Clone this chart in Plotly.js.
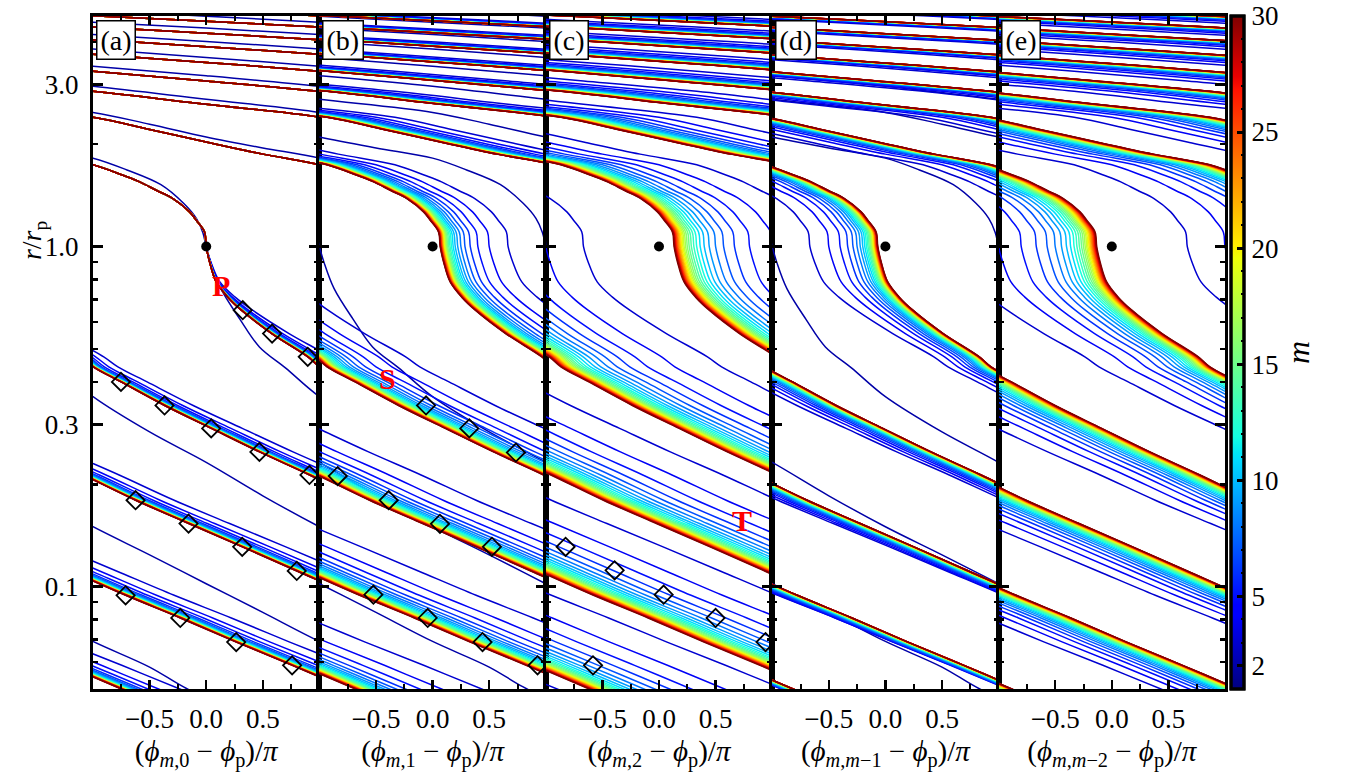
<!DOCTYPE html>
<html><head><meta charset="utf-8">
<script src="https://cdn.plot.ly/plotly-3.0.1.min.js"></script>
<style>body{margin:0;background:#fff}#plot{width:1359px;height:772px}</style>
</head><body><div id="plot"></div>
<script>
// ---- data ----
// unwrapped phase (units of pi) and radius (r/rp) of the m=30 arm
const phi30 = [-16,-15,-14,-13,-12,-11,-10,-9,-8,-7,-6,-5,-4,-3,-2.5,-2,-1.5,-1,
  -0.736,-0.588,-0.441,-0.294,-0.147,-0.088,-0.015,0,
  0.03,0.088,0.19,0.31,0.578,0.897,1.0,
  1.247,1.632,2.044,2.47,2.912,3.376,3.844,4.318,4.80,5.288,5.771,6.265,6.759,7.25,7.75];
const r30 = [4.94,4.77,4.60,4.42,4.24,4.06,3.87,3.68,3.48,3.28,3.07,2.86,2.62,2.40,2.21,2.03,1.87,1.74,
  1.62,1.55,1.464,1.384,1.265,1.195,1.104,1.0,
  0.901,0.787,0.71,0.65,0.555,0.474,0.443,
  0.400,0.341,0.292,0.249,0.213,0.1795,0.1533,0.1309,0.1112,0.0943,0.0809,0.0687,0.0587,0.050,0.0427];
// how the extra winding of low-m arms grows inside the planet (aligned with phi30)
const lagShape = [0,0,0,0,0,0,0,0,0,0,0,0,0,0,0,0,0,0,0,0,0,0,0,0,0,0,
  0.05,0.15,0.3,0.45,0.7,0.9,1.0,
  1.05,1.15,1.25,1.35,1.45,1.55,1.65,1.75,1.85,1.95,2.05,2.15,2.25,2.35,2.45];
// m = 2 arm (unwrapped phase, radius)
const phi2 = [-16,-15,-14,-13,-12,-11,-10,-9,-8,-7,-6,-5,-4,-3,-2.5,-2,-1.5,-1,-0.7,-0.4,-0.2,-0.087,-0.03,0,
  0.04,0.13,0.3,0.47,0.7,1.0,1.5,2.0,2.5,3.0,3.5,4.0,4.5,5.0,5.5,5.8,6.3];
const r2 = [5.11,4.94,4.76,4.57,4.39,4.20,4.01,3.81,3.60,3.39,3.18,2.96,2.71,2.48,2.29,2.10,1.95,1.82,1.68,1.52,1.34,1.21,1.10,1.0,
  0.90,0.752,0.61,0.507,0.44,0.362,0.285,0.232,0.185,0.150,0.124,0.102,0.084,0.069,0.058,0.0507,0.042];
// azimuthal modes
const mValues = [2,3,4,5,6,7,8,9,10,11,12,13,14,15,16,17,18,19,20,21,22,23,24,25,26,27,28,29,30];
// extra winding (units of pi) of each mode relative to m=30, inner disc
const lagM = [0,0.22,0.14,0.10,0.075,0.06,0.05,0.042,0.036,0.031,0.027,0.024,0.021,0.019,0.017,0.015,0.013,0.012,0.011,0.010,0.009,0.008,0.007,0.006,0.005,0.004,0.003,0.002,0];
// phase offset of the plotted arm in each panel (units of pi), null = not drawn
const shiftA = [0,0,0,0,0,0,0,0,0,0,0,0,0,0,0,0,0,0,0,0,0,0,0,0,0,0,0,0,0];
const shiftB = [1.0,0.667,0.5,0.4,0.333,0.286,0.25,0.222,0.2,0.182,0.167,0.154,0.143,0.133,0.125,0.118,0.111,0.105,0.1,0.095,0.091,0.087,0.083,0.08,0.077,0.074,0.071,0.069,0.067];
const shiftC = [null,1.333,1.0,0.8,0.667,0.571,0.5,0.444,0.4,0.364,0.333,0.308,0.286,0.267,0.25,0.235,0.222,0.211,0.2,0.19,0.182,0.174,0.167,0.16,0.154,0.148,0.143,0.138,0.133];
const shiftD = [-1.0,-0.667,-0.5,-0.4,-0.333,-0.286,-0.25,-0.222,-0.2,-0.182,-0.167,-0.154,-0.143,-0.133,-0.125,-0.118,-0.111,-0.105,-0.1,-0.095,-0.091,-0.087,-0.083,-0.08,-0.077,-0.074,-0.071,-0.069,-0.067];
const shiftE = [null,-1.333,-1.0,-0.8,-0.667,-0.571,-0.5,-0.444,-0.4,-0.364,-0.333,-0.308,-0.286,-0.267,-0.25,-0.235,-0.222,-0.211,-0.2,-0.19,-0.182,-0.174,-0.167,-0.16,-0.154,-0.148,-0.143,-0.138,-0.133];
// diamond markers
const diaAx = [0.323,0.582,0.897,-0.753,-0.368,0.044,0.47,0.912,-0.624,-0.156,0.318,0.80,-0.712,-0.229,0.265,0.759];
const diaAr = [0.65,0.555,0.474,0.400,0.341,0.292,0.249,0.213,0.1795,0.1533,0.1309,0.1112,0.0943,0.0809,0.0687,0.0587];
const diaBx = [-0.058,0.324,0.736,-0.838,-0.388,0.065,0.524,-0.523,-0.043,0.441,0.927];
const diaBr = [0.341,0.292,0.248,0.2115,0.1795,0.153,0.131,0.0947,0.0809,0.0687,0.0587];
const diaCx = [-0.825,-0.392,0.041,0.50,0.941,-0.583];
const diaCr = [0.131,0.1117,0.0947,0.0809,0.0687,0.0587];
// labels
const panelTags = ['(a)','(b)','(c)','(d)','(e)'];
const xTitles = [
  '(<i>ϕ</i><sub><i>m</i>,0</sub> − <i>ϕ</i><sub>p</sub>)/<i>π</i>',
  '(<i>ϕ</i><sub><i>m</i>,1</sub> − <i>ϕ</i><sub>p</sub>)/<i>π</i>',
  '(<i>ϕ</i><sub><i>m</i>,2</sub> − <i>ϕ</i><sub>p</sub>)/<i>π</i>',
  '(<i>ϕ</i><sub><i>m</i>,<i>m</i>−1</sub> − <i>ϕ</i><sub>p</sub>)/<i>π</i>',
  '(<i>ϕ</i><sub><i>m</i>,<i>m</i>−2</sub> − <i>ϕ</i><sub>p</sub>)/<i>π</i>'];
const xTickVals = [-0.5,0,0.5];
const xTickText = ['−0.5','0.0','0.5'];
const xMinorVals = [-0.75,-0.25,0.25,0.75];
const yTickVals = [0.1,0.3,1,3];
const yTickText = ['0.1','0.3','1.0','3.0'];
const yMinorVals = [0.06,0.07,0.08,0.09,0.2,0.4,0.5,0.6,0.7,0.8,0.9,2,4];
const cbMinorVals = [1,2,3,4,5,6,7,8,9,10,11,12,13,14,15,16,17,18,19,20,21,22,23,24,25,26,27,28,29,30];
const cbMajorVals = [2,5,10,15,20,25,30];
const cbMajorText = ['2','5','10','15','20','25','30'];
const markText = [{t:'P',p:0,x:0.135,r:0.768},{t:'S',p:1,x:-0.40,r:0.409},{t:'T',p:2,x:0.73,r:0.156}];

// ---- styling ----
const jet = [[0,'rgb(0,0,128)'],[0.11,'rgb(0,0,255)'],[0.125,'rgb(0,0,255)'],[0.34,'rgb(0,219,255)'],
  [0.35,'rgb(0,229,247)'],[0.375,'rgb(20,255,226)'],[0.64,'rgb(238,255,8)'],[0.65,'rgb(246,245,0)'],
  [0.66,'rgb(255,236,0)'],[0.89,'rgb(255,18,0)'],[0.91,'rgb(231,0,0)'],[1,'rgb(128,0,0)']];
const clearScale = [[0,'rgba(255,255,255,0)'],[1,'rgba(255,255,255,0)']];
const CMIN = 1, CMAX = 30;
function parseRGB(s){return s.match(/\d+/g).map(Number);}
function jetColor(v){
  const t = Math.max(0,Math.min(1,(v-CMIN)/(CMAX-CMIN)));
  for(let i=0;i<jet.length-1;i++){
    const a=jet[i], b=jet[i+1];
    if(t>=a[0] && t<=b[0]){
      const f=(b[0]-a[0])>0?(t-a[0])/(b[0]-a[0]):0;
      const ca=parseRGB(a[1]), cb=parseRGB(b[1]);
      return 'rgb('+ca.map((c,k)=>Math.round(c+(cb[k]-c)*f)).join(',')+')';
    }
  }
  return jet[jet.length-1][1];
}
const FONT = 'Liberation Serif, Times New Roman, serif';

// periodic images of an unwrapped curve inside [-1,1]
function images(U, R, shift){
  const xs=[], ys=[], n=U.length;
  const lo=Math.min(...U)+shift, hi=Math.max(...U)+shift;
  const kmin=Math.floor((-1-hi)/2)-1, kmax=Math.ceil((1-lo)/2)+1;
  for(let k=kmin;k<=kmax;k++){
    const off=shift+2*k;
    let first=-1,last=-1;
    for(let i=0;i<n-1;i++){
      const a=U[i]+off, b=U[i+1]+off;
      if(b>=-1 && a<=1){ if(first<0) first=i; last=i+1; }
    }
    if(first<0) continue;
    const s=Math.max(0,first-2), e=Math.min(n-1,last+2);
    for(let i=s;i<=e;i++){ xs.push(U[i]+off); ys.push(R[i]); }
    xs.push(null); ys.push(null);
  }
  return {xs, ys};
}

const shifts = [shiftA,shiftB,shiftC,shiftD,shiftE];
const traces = [];
for(let p=0;p<5;p++){
  const xa = p===0?'x':'x'+(p+1), ya = p===0?'y':'y'+(p+1);
  mValues.forEach((m,j)=>{
    const sh = shifts[p][j];
    if(sh===null) return;
    let U, R;
    if(m===2){ U=phi2; R=r2; }
    else { U=phi30.map((u,i)=>u+lagM[j]*lagShape[i]); R=r30; }
    const im = images(U,R,sh);
    traces.push({type:'scatter', mode:'lines', x:im.xs, y:im.ys, xaxis:xa, yaxis:ya,
      line:{color:jetColor(m), width:1.5, shape:'spline', smoothing:1},
      hoverinfo:'skip', showlegend:false, connectgaps:false});
  });
  const dx=[diaAx,diaBx,diaCx][p], dr=[diaAr,diaBr,diaCr][p];
  if(dx){
    traces.push({type:'scatter', mode:'markers', x:dx, y:dr, xaxis:xa, yaxis:ya,
      marker:{symbol:'diamond-open', size:14, color:'black', line:{width:1.8, color:'black'}},
      hoverinfo:'skip', showlegend:false});
  }
  traces.push({type:'scatter', mode:'markers', x:[0], y:[1], xaxis:xa, yaxis:ya,
    marker:{size:10, color:'black'}, hoverinfo:'skip', showlegend:false});
}
const cbBase = {x:1.0053, xanchor:'left', xpad:0, y:0.5, yanchor:'middle', ypad:0, len:1, lenmode:'fraction',
  thickness:13, thicknessmode:'pixels', outlinewidth:3, outlinecolor:'black'};
// colour bar with the gradient and the small ticks
traces.push({type:'scatter', mode:'markers', x:[5,5], y:[1,1], xaxis:'x5', yaxis:'y5',
  marker:{color:[CMIN,CMAX], cmin:CMIN, cmax:CMAX, colorscale:jet, showscale:true, size:1,
    colorbar:Object.assign({}, cbBase, {tickmode:'array', tickvals:cbMinorVals, showticklabels:false,
      ticks:'inside', ticklen:4, tickwidth:2, tickcolor:'black'})},
  hoverinfo:'skip', showlegend:false});
// transparent overlay carrying the labelled ticks and the title
traces.push({type:'scatter', mode:'markers', x:[5,5], y:[1,1], xaxis:'x5', yaxis:'y5',
  marker:{color:[CMIN,CMAX], cmin:CMIN, cmax:CMAX, colorscale:clearScale, showscale:true, size:1,
    colorbar:Object.assign({}, cbBase, {tickmode:'array', tickvals:cbMajorVals, ticktext:cbMajorText,
      ticks:'inside', ticklen:8, tickwidth:3, tickcolor:'black', ticklabeloverflow:'allow',
      tickfont:{family:FONT,size:27,color:'black'},
      title:{text:'<i>m</i>', side:'right', font:{family:FONT,size:32,color:'black'}}})},
  hoverinfo:'skip', showlegend:false});

const layout = {
  width:1359, height:772, margin:{l:93, r:134, t:16, b:83},
  paper_bgcolor:'white', plot_bgcolor:'white', showlegend:false,
  font:{family:FONT, size:27, color:'black'},
  annotations:[]
};
for(let p=0;p<5;p++){
  const xk = p===0?'xaxis':'xaxis'+(p+1), yk = p===0?'yaxis':'yaxis'+(p+1);
  const xa = p===0?'x':'x'+(p+1), ya = p===0?'y':'y'+(p+1);
  layout[xk] = {domain:[p/5,(p+1)/5], range:[-1,1], anchor:ya, tickmode:'array', tickvals:xTickVals, ticktext:xTickText,
    ticks:'inside', ticklen:9, tickwidth:2.5, tickcolor:'black', showline:true, linewidth:3, linecolor:'black', mirror:'ticks',
    minor:{tickvals:xMinorVals, ticks:'inside', ticklen:5, tickwidth:2, tickcolor:'black'},
    showgrid:false, zeroline:false, ticklabelstandoff:4, tickfont:{family:FONT,size:27},
    title:{text:xTitles[p], standoff:8, font:{family:FONT,size:29}}};
  layout[yk] = {type:'log', range:[-1.301,0.678], anchor:xa, tickmode:'array', tickvals:yTickVals, ticktext:yTickText,
    showticklabels:p===0, ticks:'inside', ticklen:10, tickwidth:3, tickcolor:'black', showline:true, linewidth:3, linecolor:'black', mirror:'ticks',
    minor:{tickvals:yMinorVals, ticks:'inside', ticklen:5, tickwidth:2.5, tickcolor:'black'},
    showgrid:false, zeroline:false, ticklabelstandoff:6, tickfont:{family:FONT,size:27}};
  layout.annotations.push({xref:xa+' domain', yref:ya+' domain', x:0.012, y:0.994, xanchor:'left', yanchor:'top',
    text:panelTags[p], showarrow:false, bordercolor:'black', borderwidth:1.5, borderpad:3, bgcolor:'white',
    font:{family:FONT,size:28,color:'black'}});
}
markText.forEach(t=>{
  const xa = t.p===0?'x':'x'+(t.p+1), ya = t.p===0?'y':'y'+(t.p+1);
  layout.annotations.push({xref:xa, yref:ya, x:t.x, y:Math.log10(t.r), text:'<b>'+t.t+'</b>', showarrow:false,
    font:{family:FONT,size:30,color:'#ff0000'}});
});
layout.annotations.push({xref:'paper', yref:'paper', x:-0.053, xanchor:'center', y:0.667, yanchor:'middle',
  text:'<i>r</i>/<i>r</i><sub>p</sub>', textangle:-90, showarrow:false, font:{family:FONT,size:28,color:'black'}});

Plotly.newPlot('plot', traces, layout, {staticPlot:true, displayModeBar:false});
</script></body></html>
